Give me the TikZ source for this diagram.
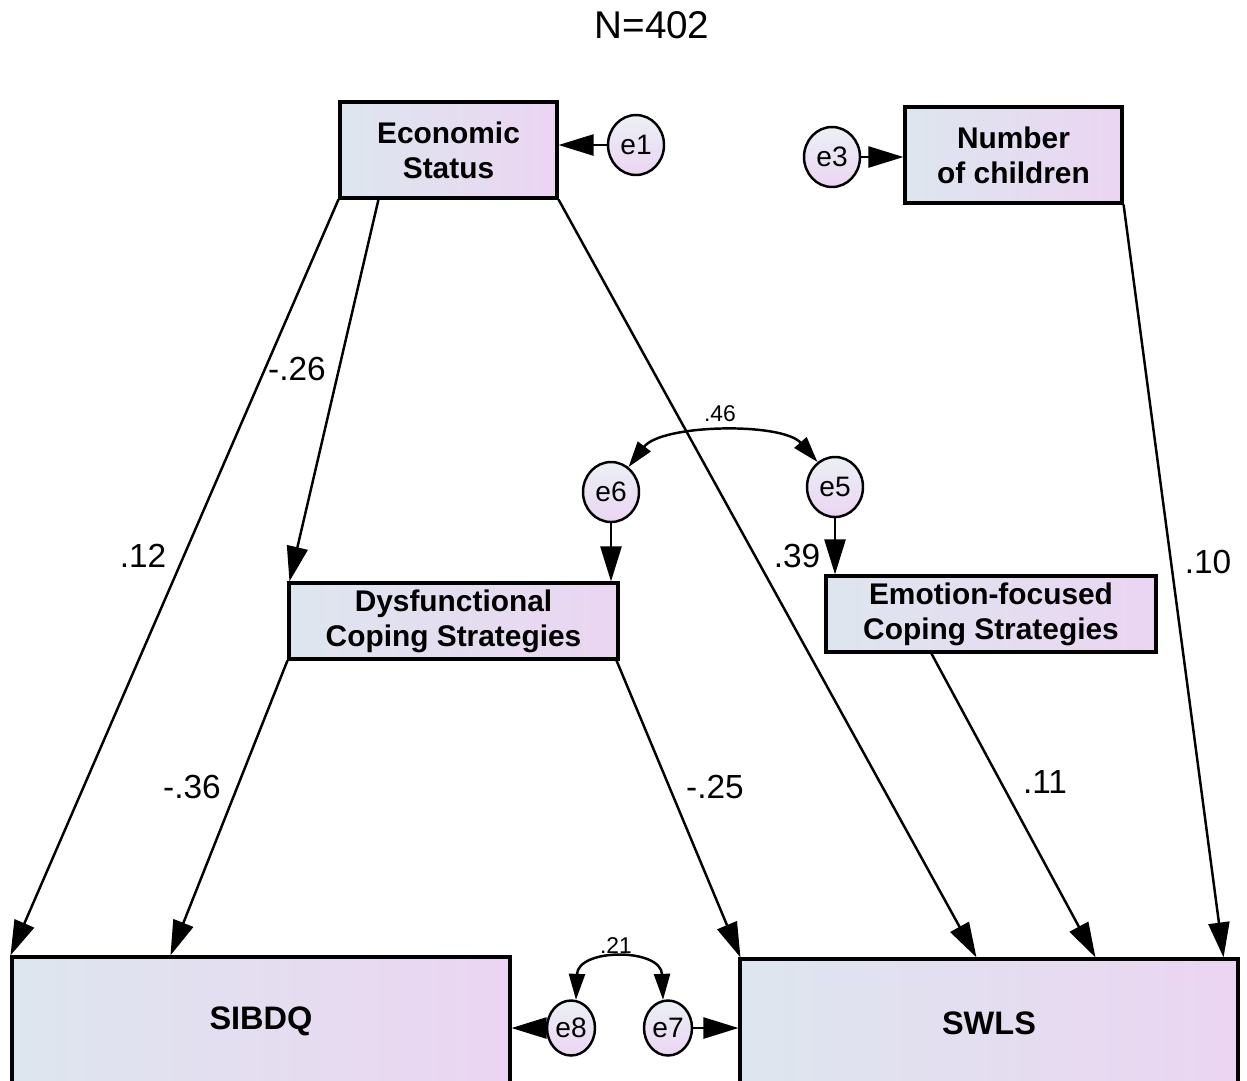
\documentclass[tikz,border=0pt]{standalone}
\usepackage{fontspec}
\setmainfont{Liberation Sans}
\usetikzlibrary{arrows.meta,shapes.geometric,calc}

\definecolor{boxleft}{HTML}{DDE6EE}
\definecolor{boxright}{HTML}{EBD5F2}

\begin{document}
\begin{tikzpicture}[x=0.02cm, y=-0.02cm,
    var/.style={draw, line width=1.8pt, left color=boxleft, right color=boxright,
        align=center, inner sep=0pt, font=\fontsize{17}{20}\selectfont\bfseries},
    err/.style={draw, ellipse, line width=1.4pt, top color=boxleft!60!white, bottom color=boxright,
        minimum width=1.12cm, minimum height=1.2cm, inner sep=0pt, font=\fontsize{16}{18}\selectfont},
    path/.style={line width=1.4pt, -{Triangle[length=0.7cm, width=0.42cm]}},
    cov/.style={line width=1.4pt, {Triangle[length=0.52cm, width=0.32cm]}-{Triangle[length=0.52cm, width=0.32cm]}},
    coef/.style={font=\fontsize{19}{22}\selectfont},
    smallcoef/.style={font=\fontsize{13}{15}\selectfont}]

\useasboundingbox (0,0) rectangle (1247,1080);

\node [font=\fontsize{22}{26}\selectfont] (title) at (652,25) {N=402};

% observed variables
\node [var, minimum width=4.34cm, minimum height=1.92cm] (es)   at (448.5,150) {Economic\\Status};
\node [var, minimum width=4.34cm, minimum height=1.92cm] (noc)  at (1013.5,155) {Number\\of children};
\node [var, minimum width=6.58cm, minimum height=1.52cm] (dcs)  at (453.5,621) {Dysfunctional\\Coping Strategies};
\node [var, minimum width=6.6cm,  minimum height=1.52cm] (efcs) at (991,614) {Emotion-focused\\Coping Strategies};
\node [var, minimum width=9.96cm, minimum height=2.56cm, font=\fontsize{18.5}{22}\selectfont\bfseries] (sibdq) at (261,1021) {SIBDQ};
\node [var, minimum width=9.96cm, minimum height=2.56cm, font=\fontsize{18.5}{22}\selectfont\bfseries] (swls)  at (989,1023) {SWLS};

% error terms
\foreach \n/\x/\y in {e1/636/145, e3/832/157, e6/611/492, e5/835/487}
    \node [err] (\n) at (\x,\y) {\n};

\foreach \n/\x/\y in {e8/571/1028, e7/668/1028}
    \node [err, minimum width=0.96cm, minimum height=1.1cm] (\n) at (\x,\y) {\n};

% regression paths
\draw [path] (es.south west) -- (sibdq.north west);
\draw [path] ($(es.south west)+(40,0)$) -- ($(dcs.north west)+(2,0)$);
\draw [path] (es.south east) -- ($(swls.north west)+(238,0)$);
\draw [path] (noc.south east) -- ($(swls.north east)+(-16,0)$);
\draw [path] (dcs.south west) -- ($(sibdq.north west)+(160,0)$);
\draw [path] ($(dcs.south east)+(-3,0)$) -- ($(swls.north west)+(2,0)$);
\draw [path] ($(efcs.south west)+(107,0)$) -- ($(swls.north west)+(357,0)$);

\draw [path] (e1) -- (e1 -| es.east);
\draw [path] (e3) -- (e3 -| noc.west);
\draw [path] (e6) -- (e6 |- dcs.north);
\draw [path] (e5) -- (e5 |- efcs.north);
\draw [path] (e8) -- (e8 -| sibdq.east);
\draw [path] (e7) -- (e7 -| swls.west);

% covariances
\draw [cov] (e6.55) .. controls +(33,-43) and +(-35,-40) .. (e5.125);
\draw [cov] (e8.80) .. controls +(2,-52) and +(-2,-52) .. (e7.100);

% estimates
\foreach \n/\x/\y/\t in {w1/143/556/.12, w2/297/369/-.26, w3/797/556/.39, w4/1208/562/.10,
                          w5/192/787/-.36, w6/715/787/-.25, w7/1045/782/.11}
    \node [coef] (\n) at (\x,\y) {\t};

\node [smallcoef] (c1) at (720,414) {.46};
\node [smallcoef] (c2) at (616,946) {.21};

\end{tikzpicture}
\end{document}
